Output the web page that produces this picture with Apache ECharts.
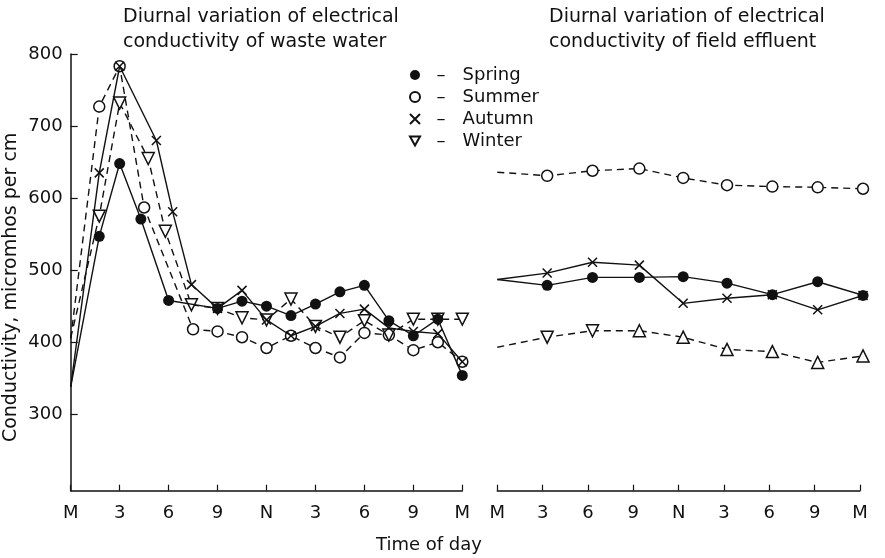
<!DOCTYPE html>
<html>
<head>
<meta charset="utf-8">
<script src="https://cdn.jsdelivr.net/npm/echarts@6/dist/echarts.min.js"></script>
<style>
html, body { margin: 0; padding: 0; background: #fff; }
#chart { width: 885px; height: 558px; }
</style>
</head>
<body>
<div id="chart"></div>
<script>
var tickLabels = ['M', '3', '6', '9', 'N', '3', '6', '9', 'M']
var yTicks = [300, 400, 500, 600, 700, 800]

// waste water, left panel (hours, micromhos per cm)
var springTimesL = [0, 1.75, 3, 4.3, 6, 9, 10.5, 12, 13.5, 15, 16.5, 18, 19.5, 21, 22.5, 24]
var springValsL = [338, 547, 648, 571, 458, 447, 457, 450, 437, 453, 470, 479, 430, 409, 432, 354]
var summerTimesL = [0, 1.75, 3, 4.5, 7.5, 9, 10.5, 12, 13.5, 15, 16.5, 18, 19.5, 21, 22.5, 24]
var summerValsL = [405, 727, 783, 587, 418, 415, 407, 392, 409, 392, 379, 413, 410, 389, 400, 373]
var autumnTimesL = [0, 1.75, 3, 5.25, 6.25, 7.4, 9, 10.5, 12, 13.5, 15, 16.5, 18, 19.5, 21, 22.5, 24]
var autumnValsL = [338, 635, 783, 680, 581, 480, 447, 472, 431, 409, 422, 440, 446, 420, 415, 412, 373]
var winterTimesL = [0, 1.75, 3, 4.75, 5.8, 7.4, 9, 10.5, 12, 13.5, 15, 16.5, 18, 19.5, 21, 22.5, 24]
var winterValsL = [406, 575, 732, 655, 554, 452, 447, 434, 431, 460, 422, 407, 430, 410, 432, 432, 432]

// field effluent, right panel
var rightTimes = [0, 3.3, 6.3, 9.4, 12.3, 15.2, 18.2, 21.2, 24.2]
var springR = [487, 479, 490, 490, 491, 482, 466, 484, 465]
var summerR = [636, 631, 638, 641, 628, 618, 616, 615, 613]
var autumnR = [487, 496, 511, 507, 454, 461, 466, 445, 465]
var winterR = [393, 407, 416, 416, 407, 390, 387, 372, 381]

var ink = '#111'
var font = 'DejaVu Sans'
var cross = 'path://M0,0L10,10M10,0L0,10'
var downTri = 'path://M0,0L10,0L5,9Z'

var chart = echarts.init(document.getElementById('chart'))

// lines start at midnight without a mark
function pairs(times, vals) {
  var data = times.map(function (t, i) { return [t, vals[i]] })
  data[0] = { value: data[0], symbol: 'none' }
  return data
}

var marks = {
  Spring: { symbol: 'circle', size: 11, fill: ink, border: 0, z: 4 },
  Summer: { symbol: 'circle', size: 11, fill: '#fff', border: 1.5, z: 2 },
  Autumn: { symbol: cross, size: 9, fill: '#fff', border: 1.5, z: 3 },
  Winter: { symbol: downTri, size: 12, fill: '#fff', border: 1.5, z: 2 }
}
var dashed = { Spring: false, Summer: true, Autumn: false, Winter: true }

function line(name, data, grid) {
  var m = marks[name]
  return {
    name: name,
    type: 'line',
    xAxisIndex: grid,
    yAxisIndex: grid,
    z: m.z,
    data: data,
    symbol: m.symbol,
    symbolSize: m.size,
    showAllSymbol: true,
    clip: false,
    lineStyle: { color: ink, width: 1.4, type: dashed[name] ? [7, 5] : 'solid' },
    itemStyle: { color: m.fill, borderColor: ink, borderWidth: m.border }
  }
}

// on the right, winter marks turn from down- to up-pointing after 6 a.m.
var winterRight = pairs(rightTimes, winterR)
for (var i = 3; i < winterRight.length; i++) {
  winterRight[i] = { value: winterRight[i], symbol: 'triangle' }
}

function xAxisFor(grid) {
  return {
    type: 'value', gridIndex: grid, min: 0, max: 24, interval: 3,
    axisLine: { show: true, lineStyle: { color: ink, width: 1.5 } },
    axisTick: { show: true, inside: true, length: 6, lineStyle: { color: ink, width: 1.2 } },
    axisLabel: {
      formatter: function (v) { return tickLabels[v / 3] },
      fontFamily: font, fontSize: 18, color: ink, margin: 14
    },
    splitLine: { show: false }
  }
}

var titleText = { fontFamily: font, fontSize: 19, fontWeight: 'normal', color: ink, lineHeight: 25 }

var option = {
  animation: false,
  backgroundColor: '#fff',
  title: [
    {
      text: 'Diurnal variation of electrical\nconductivity of waste water',
      left: 123, top: 5, padding: 0, textStyle: titleText
    },
    {
      text: 'Diurnal variation of electrical\nconductivity of field effluent',
      left: 549, top: 5, padding: 0, textStyle: titleText
    },
    {
      text: 'Time of day',
      left: 376, top: 534, padding: 0,
      textStyle: { fontFamily: font, fontSize: 18, fontWeight: 'normal', color: ink, lineHeight: 22 }
    }
  ],
  legend: {
    orient: 'vertical',
    left: 409, top: 64, padding: 0,
    itemWidth: 10, itemHeight: 10, itemGap: 0,
    selectedMode: false,
    formatter: '  –   {name}',
    textStyle: { fontFamily: font, fontSize: 18, color: ink, lineHeight: 22 },
    data: [
      { name: 'Spring', icon: 'circle' },
      { name: 'Summer', icon: 'circle' },
      { name: 'Autumn', icon: cross },
      { name: 'Winter', icon: downTri }
    ]
  },
  grid: [
    { left: 70.7, right: 422.7, top: 54, bottom: 67.3 },
    { left: 497.3, right: 25, top: 54, bottom: 67.3 }
  ],
  xAxis: [xAxisFor(0), xAxisFor(1)],
  yAxis: [
    {
      type: 'value', gridIndex: 0, min: 194, max: 800,
      name: 'Conductivity, micromhos per cm',
      nameLocation: 'middle', nameGap: 50,
      nameTextStyle: { fontFamily: font, fontSize: 19, color: ink, padding: [0, 30, 0, 0] },
      axisLine: { show: true, lineStyle: { color: ink, width: 1.5 } },
      axisTick: { show: true, inside: true, length: 7, customValues: yTicks, lineStyle: { color: ink, width: 1.2 } },
      axisLabel: { customValues: yTicks, fontFamily: font, fontSize: 18, color: ink, margin: 8 },
      splitLine: { show: false }
    },
    { type: 'value', gridIndex: 1, min: 194, max: 800, show: false }
  ],
  series: [
    line('Spring', pairs(springTimesL, springValsL), 0),
    line('Summer', pairs(summerTimesL, summerValsL), 0),
    line('Autumn', pairs(autumnTimesL, autumnValsL), 0),
    line('Winter', pairs(winterTimesL, winterValsL), 0),
    line('Spring', pairs(rightTimes, springR), 1),
    line('Summer', pairs(rightTimes, summerR), 1),
    line('Autumn', pairs(rightTimes, autumnR), 1),
    line('Winter', winterRight, 1)
  ]
}

chart.setOption(option)
</script>
</body>
</html>
